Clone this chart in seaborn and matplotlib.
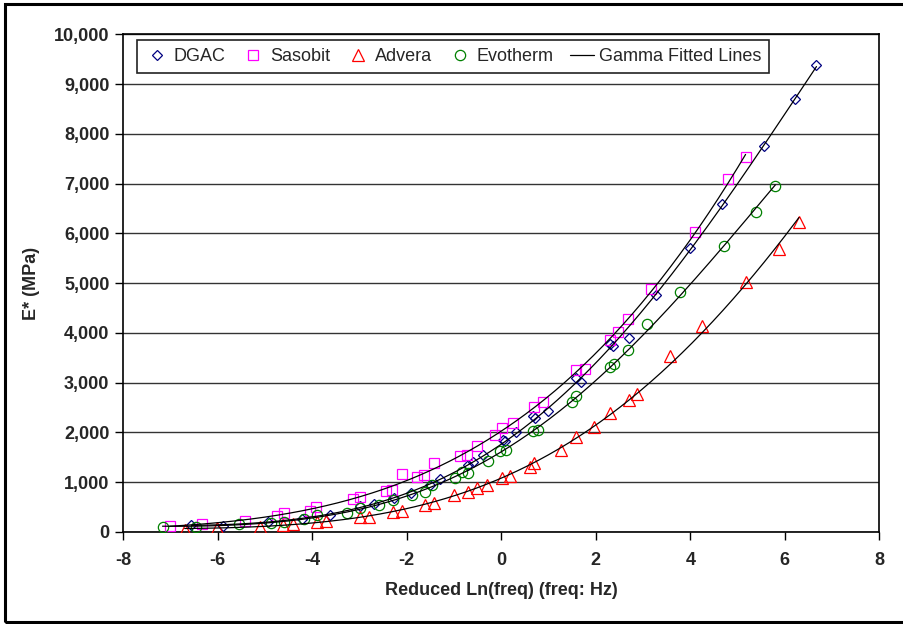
import numpy as np
import pandas as pd
import seaborn as sns
import matplotlib
matplotlib.use("Agg")
import matplotlib.pyplot as plt
from matplotlib.patches import Rectangle
from matplotlib.lines import Line2D

# ---------------- data ----------------
dgac_x = [-6.56, -5.89, -4.94, -4.22, -3.62, -2.98, -2.70, -2.28, -1.92, -1.50, -1.29,
          -0.70, -0.59, -0.38, 0.04, 0.08, 0.32, 0.67, 0.71, 0.99, 1.59, 1.69, 2.29,
          2.36, 2.71, 3.27, 3.99, 4.68, 5.55, 6.22, 6.67]
dgac_y = [150, 130, 200, 270, 350, 520, 560, 680, 780, 950, 1060,
          1350, 1410, 1550, 1850, 1820, 2000, 2330, 2290, 2430, 3090, 3010, 3780,
          3740, 3900, 4760, 5700, 6590, 7750, 8710, 9380]

sasobit_x = [-7.02, -6.33, -5.42, -4.74, -4.60, -4.05, -3.92, -3.14, -3.00, -2.45, -2.31,
             -2.10, -1.78, -1.64, -1.43, -0.87, -0.73, -0.52, -0.13, 0.01, 0.25, 0.69,
             0.88, 1.59, 1.78, 2.29, 2.48, 2.69, 3.16, 4.09, 4.80, 5.17]
sasobit_y = [120, 165, 230, 315, 385, 430, 505, 660, 700, 830, 850,
             1160, 1100, 1150, 1380, 1530, 1550, 1720, 1940, 2080, 2200, 2520,
             2620, 3260, 3270, 3850, 4010, 4270, 4880, 6020, 7090, 7530]

advera_x = [-6.70, -6.01, -5.10, -4.61, -4.40, -3.90, -3.71, -2.99, -2.80, -2.29, -2.10,
            -1.61, -1.43, -1.01, -0.70, -0.52, -0.31, 0.01, 0.18, 0.60, 0.69, 1.27,
            1.59, 1.97, 2.29, 2.71, 2.88, 3.56, 4.25, 5.18, 5.87, 6.30]
advera_y = [50, 90, 110, 150, 170, 205, 230, 310, 310, 410, 420,
            540, 590, 740, 810, 880, 950, 1080, 1130, 1300, 1380, 1640,
            1910, 2110, 2390, 2660, 2780, 3530, 4130, 5030, 5690, 6220]

evotherm_x = [-7.17, -6.47, -5.56, -4.87, -4.60, -4.18, -3.89, -3.26, -2.98, -2.59, -2.29,
              -1.89, -1.61, -1.47, -0.98, -0.84, -0.70, -0.29, -0.03, 0.11, 0.67, 0.78,
              1.50, 1.59, 2.29, 2.39, 2.69, 3.08, 3.79, 4.71, 5.40, 5.80]
evotherm_y = [110, 110, 160, 190, 210, 260, 340, 390, 480, 540, 640,
              740, 810, 950, 1080, 1210, 1190, 1430, 1620, 1650, 2030, 2050,
              2610, 2740, 3310, 3380, 3660, 4170, 4830, 5750, 6430, 6960]

series_names = ["DGAC", "Sasobit", "Advera", "Evotherm"]
series_x = [dgac_x, sasobit_x, advera_x, evotherm_x]
series_y = [dgac_y, sasobit_y, advera_y, evotherm_y]
colors = ["#000080", "#FF00FF", "#FF0000", "#008000"]
markers = ["D", "s", "^", "o"]
msizes = [4.8, 7.6, 8.4, 7.4]

x_ticks = [-8, -6, -4, -2, 0, 2, 4, 6, 8]
y_ticks = list(range(0, 10001, 1000))

# ---------------- figure ----------------
sns.set_style("white")
plt.rcParams["font.family"] = ["Liberation Sans", "DejaVu Sans"]

fig = plt.figure(figsize=(9.04, 6.24), dpi=100)
ax = fig.add_axes([123.3 / 904, 1 - 532 / 624, (879.3 - 123.3) / 904, (532 - 34.3) / 624])

frames = []
for name, xs, ys in zip(series_names, series_x, series_y):
    frames.append(pd.DataFrame({"x": xs, "y": ys, "mix": name}))
df = pd.concat(frames, ignore_index=True)

# fitted curves (least-squares fit of the read points, drawn through seaborn)
fit_frames = []
for name, xs, ys in zip(series_names, series_x, series_y):
    xs = np.asarray(xs, float)
    ys = np.asarray(ys, float)
    coef = np.polyfit(xs, np.sqrt(ys), 3)
    xx = np.linspace(xs.min(), xs.max(), 300)
    fit_frames.append(pd.DataFrame({"x": xx, "y": np.polyval(coef, xx) ** 2, "mix": name}))
fit_df = pd.concat(fit_frames, ignore_index=True)

for name, c, m, ms in zip(series_names, colors, markers, msizes):
    sub = df[df["mix"] == name]
    sns.lineplot(data=sub, x="x", y="y", ax=ax, linestyle="none", marker=m,
                 markersize=ms, markerfacecolor="none", markeredgecolor=c,
                 markeredgewidth=0.9, color=c, legend=False, zorder=3, sort=False,
                 estimator=None)

for name in series_names:
    sub = fit_df[fit_df["mix"] == name]
    sns.lineplot(data=sub, x="x", y="y", ax=ax, color="black", linewidth=0.9,
                 legend=False, zorder=4, estimator=None, sort=False)

ax.set_xlim(-8, 8)
ax.set_ylim(0, 10000)
ax.set_xticks(x_ticks)
ax.set_yticks(y_ticks)
ax.set_xticklabels([str(t) for t in x_ticks], fontsize=13, fontweight="bold")
ax.set_yticklabels([f"{t:,}" for t in y_ticks], fontsize=13, fontweight="bold")
ax.tick_params(axis="both", direction="out", length=6, width=1, color="black",
               bottom=True, left=True, pad=4)
ax.tick_params(axis="x", pad=8.5)
ax.yaxis.grid(True, color="#333333", linewidth=1.0)
ax.xaxis.grid(False)
ax.set_axisbelow(True)
for s in ax.spines.values():
    s.set_visible(True)
    s.set_color("black")
    s.set_linewidth(1.2)

ax.set_xlabel("Reduced Ln(freq) (freq: Hz)", fontsize=13, fontweight="bold", labelpad=9.5)
ax.set_ylabel("E* (MPa)", fontsize=13, fontweight="bold", labelpad=10)

handles = [Line2D([], [], linestyle="none", marker=m, markersize=ms,
                  markerfacecolor="none", markeredgecolor=c, markeredgewidth=0.9)
           for c, m, ms in zip(colors, markers, msizes)]
handles.append(Line2D([], [], color="black", linewidth=0.9))
labels = series_names + ["Gamma Fitted Lines"]
leg = ax.legend(handles, labels, loc="upper left",
                bbox_to_anchor=(13.4 / 756, 1 - 5.7 / 497.7), ncol=5, fontsize=13,
                frameon=True, fancybox=False, framealpha=1, edgecolor="#222222",
                borderaxespad=0, handlelength=1.33, handletextpad=0.25,
                columnspacing=0.9, borderpad=0.45)
leg.get_frame().set_linewidth(1.2)

fig.patches.append(Rectangle((5 / 904, 2 / 624), 1.0, 1 - 6 / 624, transform=fig.transFigure,
                             fill=False, edgecolor="black", linewidth=2.2))

fig.savefig("out.png", dpi=100)
